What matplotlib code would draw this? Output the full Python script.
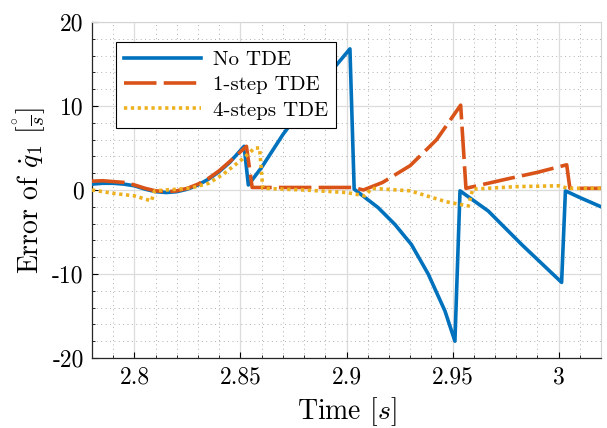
import matplotlib
matplotlib.use("Agg")
import matplotlib.pyplot as plt
from matplotlib.ticker import MultipleLocator

plt.rcParams.update({
    "font.family": "serif", "font.serif": ["cmr10"], "mathtext.fontset": "cm",
    "axes.formatter.use_mathtext": True, "axes.unicode_minus": False,
})

# No TDE
t_none = [2.78, 2.785, 2.79, 2.795, 2.80, 2.805, 2.81, 2.815, 2.82, 2.825, 2.83, 2.835, 2.84, 2.845,
          2.8517, 2.8537, 2.86, 2.87, 2.88, 2.89, 2.9016, 2.9036, 2.9149, 2.9228, 2.9306, 2.9385,
          2.9464, 2.9511, 2.9535, 2.9668, 2.9826, 3.0014, 3.0032, 3.01, 3.02]
e_none = [0.7, 0.8, 0.8, 0.7, 0.5, 0.1, -0.2, -0.3, -0.2, 0.1, 0.6, 1.3, 2.2, 3.3,
          5.2, 0.6, 2.7, 6.6, 10.0, 13.3, 16.8, 0.1, -2.1, -4.1, -6.5, -10.0,
          -14.4, -18.0, -0.1, -2.5, -6.5, -11.0, -0.1, -0.9, -2.0]

# 1-step TDE
t_one = [2.78, 2.785, 2.79, 2.795, 2.80, 2.805, 2.81, 2.815, 2.82, 2.825, 2.83, 2.835, 2.84, 2.845,
         2.8528, 2.8555, 2.87, 2.89, 2.903, 2.908, 2.917, 2.93, 2.9425, 2.9538, 2.9563, 2.9755,
         2.99, 3.0038, 3.0053, 3.02]
e_one = [1.05, 1.1, 1.0, 0.9, 0.6, 0.2, -0.1, -0.2, -0.1, 0.2, 0.7, 1.4, 2.3, 3.4,
         5.2, 0.3, 0.3, 0.3, 0.3, 0.0, 0.9, 2.9, 6.0, 10.1, 0.2, 1.3,
         2.1, 3.0, 0.2, 0.2]

# 4-steps TDE
t_four = [2.78, 2.79, 2.80, 2.808, 2.8095, 2.815, 2.826, 2.835, 2.842, 2.851, 2.8567, 2.8590, 2.8605,
          2.88, 2.90, 2.9086, 2.912, 2.93, 2.947, 2.9574, 2.9595, 2.98, 3.0, 3.0045, 3.02]
e_four = [0.0, -0.4, -0.7, -1.3, -0.1, 0.0, 0.2, 0.8, 1.9, 3.7, 5.0, 5.0, 0.2,
          0.0, -0.3, -0.7, 0.2, -0.1, -1.4, -1.9, 0.1, 0.4, 0.5, 0.2, 0.2]

x_ticks = [2.8, 2.85, 2.9, 2.95, 3.0]
x_labels = ["2.8", "2.85", "2.9", "2.95", "3"]
y_ticks = [-20, -10, 0, 10, 20]
y_labels = ["-20", "-10", "0", "10", "20"]

fig = plt.figure(figsize=(6.07, 4.28), dpi=100)
ax = fig.add_axes([0.1516, 0.1636, 0.8386, 0.785])

lw = 2.6
ax.plot(t_none, e_none, color="#0072BD", lw=lw, label="No TDE", zorder=3)
ax.plot(t_one, e_one, color="#D95319", lw=lw, dashes=[9, 2], label="1-step TDE", zorder=4)
ax.plot(t_four, e_four, color="#EDB120", lw=lw, dashes=[0.9, 1.0], dash_capstyle="butt",
        label="4-steps TDE", zorder=5)

ax.set_xlim(2.78, 3.02); ax.set_ylim(-20, 20)
ax.set_xticks(x_ticks); ax.set_xticklabels(x_labels)
ax.set_yticks(y_ticks); ax.set_yticklabels(y_labels)
ax.xaxis.set_minor_locator(MultipleLocator(0.01)); ax.yaxis.set_minor_locator(MultipleLocator(2))
ax.grid(True, which="major", color="#dcdcdc", lw=0.9, ls="-", zorder=0)
ax.grid(True, which="minor", color="#b0b0b0", lw=0.7, ls=(0, (1, 3.5)), zorder=0)
ax.set_axisbelow(True)
ax.tick_params(which="major", direction="in", length=4, width=0.8, labelsize=17, pad=6)
ax.tick_params(which="minor", direction="in", length=2, width=0.6)
for s in ("top", "right"):
    ax.spines[s].set_color("#d4d4d4")
for s in ("left", "bottom"):
    ax.spines[s].set_color("#262626"); ax.spines[s].set_linewidth(0.9)

ax.set_xlabel(r"Time $[s]$", fontsize=20, labelpad=5)
ax.set_ylabel(r"Error of $\dot{q}_1$ $[\frac{^{\circ}}{s}]$", fontsize=20, labelpad=3)

leg = ax.legend(loc="upper left", bbox_to_anchor=(0.047, 0.94), borderaxespad=0, fontsize=15,
                fancybox=False, edgecolor="black", framealpha=1, handlelength=3.7,
                handletextpad=0.55, borderpad=0.4, labelspacing=0.32)
leg.get_frame().set_linewidth(0.8)

fig.savefig("out.png", dpi=100)
